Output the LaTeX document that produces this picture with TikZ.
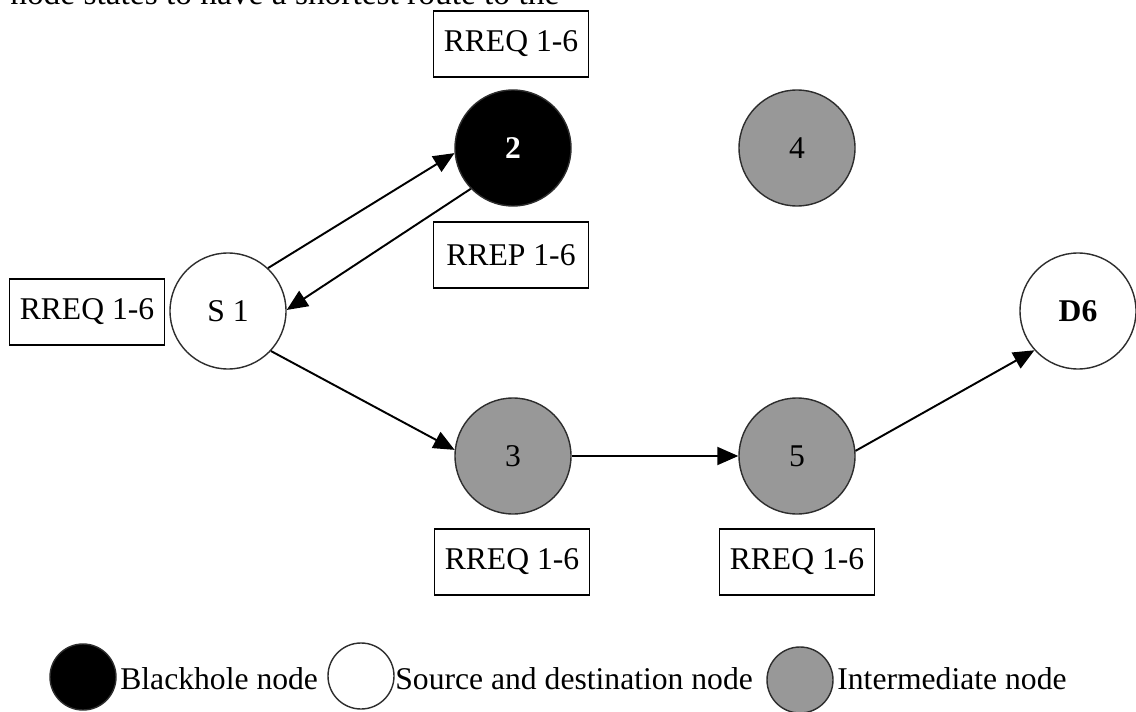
\documentclass[tikz,border=0pt]{standalone}
\usepackage{fontspec}
\setmainfont{Liberation Serif}
\usepackage{xcolor}
\definecolor{nodegray}{RGB}{152,152,152}
\definecolor{rimgray}{RGB}{45,45,45}
\usetikzlibrary{arrows.meta, positioning}
\tikzset{
  netnode/.style={circle, draw=rimgray, line width=0.8pt, minimum size=2.32cm, inner sep=0pt,
                  font=\fontsize{18}{21}\selectfont},
  blackhole/.style={netnode, fill=black, text=white, font=\fontsize{18}{21}\selectfont\bfseries},
  srcdst/.style={netnode, fill=white},
  midnode/.style={netnode, fill=nodegray},
  msgbox/.style={draw, line width=1pt, minimum width=3.1cm, minimum height=1.32cm, inner sep=0pt,
                 font=\fontsize{18}{21}\selectfont},
  msgarrow/.style={line width=1.1pt, -{Triangle[length=0.42cm, width=0.36cm]}},
  legdot/.style={circle, draw=rimgray, line width=0.8pt, minimum size=1.32cm, inner sep=0pt},
  legtext/.style={anchor=base west, inner sep=0pt, font=\fontsize{18}{21}\selectfont}
}

\begin{document}
\begin{tikzpicture}
  \useasboundingbox (0,0) rectangle (22.72,14.22);
  \clip (0,0) rectangle (22.72,14.22);

  % cut-off line of running text
  \node[legtext, font=\fontsize{19}{23}\selectfont] (runtext) at (0.2,14.12)
    {node states to have a shortest route to the};

  % --- Network nodes ---
  \node[srcdst]    (s1) at (4.56,8.00)  {S 1};
  \node[blackhole] (n2) at (10.26,11.26) {2};
  \node[midnode]   (n4) at (15.94,11.26) {4};
  \node[srcdst, font=\fontsize{18}{21}\selectfont\bfseries] (d6) at (21.56,8.00) {D6};
  \node[midnode]   (n3) at (10.26,5.10) {3};
  \node[midnode]   (n5) at (15.94,5.10) {5};

  % --- Message boxes ---
  \node[msgbox] (reqtop)   at (10.22,13.34) {RREQ 1-6};
  \node[msgbox] (reptop)   at (10.22,9.12)  {RREP 1-6};
  \node[msgbox] (reqleft)  at (1.74,7.98)   {RREQ 1-6};
  \node[msgbox] (reqthree) at (10.24,2.98)  {RREQ 1-6};
  \node[msgbox] (reqfive)  at (15.94,2.98)  {RREQ 1-6};

  % --- Routes ---
  \draw[msgarrow] (s1.47) -- (n2.185);
  \draw[msgarrow] (n2.224) -- (s1.1);
  \draw[msgarrow] (s1.-43) -- (n3.174);
  \draw[msgarrow] (n3.east) -- (n5.west);
  \draw[msgarrow] (n5.5) -- (d6.222);

  % --- Legend ---
  \node[legdot, fill=black] (legblack) at (1.66,0.68) {};
  \node[legtext] (legblacktext) at (2.40,0.44) {Blackhole node};
  \node[legdot, fill=white] (legsrc) at (7.22,0.70) {};
  \node[legtext] (legsrctext) at (7.90,0.44) {Source and destination node};
  \node[legdot, fill=nodegray] (legmid) at (16.0,0.62) {};
  \node[legtext] (legmidtext) at (16.74,0.44) {Intermediate node};
\end{tikzpicture}
\end{document}
